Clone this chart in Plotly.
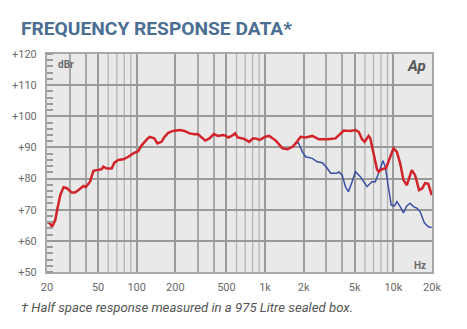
import plotly.graph_objects as go

# ---- data (frequency in Hz, level in dBr) ----
red_freq = [20, 21.1, 21.9, 23.2, 24.3, 25.4, 26.9, 28.6, 31.2, 33.1, 35.2, 38.5, 40.1, 43.3,
            46.0, 50.3, 53.4, 55.0, 58.4, 63.8, 67.0, 71.9, 78.6, 86.0, 94.0, 102.8, 109, 119,
            126, 137, 145, 156, 165, 176, 192, 216, 236, 258, 282, 300, 318, 342, 369, 399,
            429, 469, 497, 518, 550, 584, 612, 669, 710, 753, 801, 849, 901, 928, 997, 1077,
            1213, 1368, 1495, 1635, 1734, 1896, 2073, 2336, 2628, 3054, 3541, 3873, 4106,
            4628, 5061, 5369, 5702, 5975, 6418, 6616, 7015, 7454, 7670, 8147, 8750, 9449,
            10023, 10652, 11298, 11983, 12733, 13918, 14765, 15860, 16820, 17648, 18722, 19894]
red_db = [66.1, 65.6, 64.5, 66.7, 71.0, 74.7, 77.2, 76.9, 75.5, 75.5, 76.3, 77.6, 77.3, 79.0,
          82.5, 82.7, 83.0, 83.8, 83.2, 83.2, 85.1, 86.0, 86.2, 87.0, 88.1, 88.8, 90.6, 92.4,
          93.4, 92.9, 91.3, 91.8, 93.4, 94.7, 95.3, 95.6, 95.3, 94.5, 94.2, 94.3, 93.4, 92.2,
          92.9, 94.3, 93.7, 94.0, 93.7, 93.2, 93.7, 94.5, 93.2, 92.9, 92.4, 91.8, 92.9, 92.9,
          92.4, 92.6, 93.4, 93.7, 92.2, 89.7, 89.4, 90.2, 91.3, 93.4, 93.2, 93.7, 92.6, 92.6,
          92.9, 94.5, 95.4, 95.3, 95.6, 95.0, 92.6, 91.8, 93.7, 92.9, 88.1, 83.0, 82.2, 83.0,
          83.3, 87.0, 89.7, 88.6, 84.9, 79.5, 77.9, 82.7, 81.1, 76.3, 76.9, 78.5, 78.3, 74.7]

blue_freq = [1734, 1820, 1954, 2073, 2336, 2554, 2793, 3054, 3239, 3650, 3756, 3991, 4233,
             4466, 4771, 5061, 5533, 6235, 6817, 7231, 7670, 8296, 8646, 9170, 9624, 10206,
             10652, 11298, 11983, 12733, 13504, 14326, 15220, 16150, 17432, 18722, 19894]
blue_db = [91.3, 91.5, 88.6, 87.0, 86.5, 85.4, 85.1, 83.3, 81.7, 81.7, 82.2, 81.1, 77.4,
           75.8, 79.0, 82.2, 80.6, 77.4, 79.0, 79.0, 81.7, 85.7, 83.8, 77.4, 71.5, 71.2,
           72.6, 71.0, 69.0, 71.2, 72.1, 71.0, 70.5, 69.4, 65.8, 64.5, 64.3]

x_tick_vals = [20, 50, 100, 200, 500, 1000, 2000, 5000, 10000, 20000]
x_tick_text = ["20", "50", "100", "200", "500", "1k", "2k", "5k", "10k", "20k"]
x_mid_grid = [30, 40, 300, 400, 3000, 4000]
x_light_grid = [60, 70, 80, 90, 600, 700, 800, 900, 6000, 7000, 8000, 9000]
y_tick_vals = [50, 60, 70, 80, 90, 100, 110, 120]
y_tick_text = ["+50", "+60", "+70", "+80", "+90", "+100", "+110", "+120"]

title_text = "FREQUENCY RESPONSE DATA*"
foot_text = "† Half space response measured in a 975 Litre sealed box."

fig = go.Figure()
fig.add_trace(go.Scatter(x=blue_freq, y=blue_db, mode="lines",
                         line=dict(color="#3a4fa3", width=1.5), hoverinfo="skip"))
fig.add_trace(go.Scatter(x=red_freq, y=red_db, mode="lines",
                         line=dict(color="#d2232a", width=2.5), hoverinfo="skip"))

for f in x_light_grid:
    fig.add_shape(type="line", xref="x", yref="paper", x0=f, x1=f, y0=0, y1=1,
                  line=dict(color="#b4b4b4", width=1.3), layer="below")

fig.update_layout(
    width=467, height=329,
    margin=dict(l=45, r=35, t=54, b=57),
    paper_bgcolor="white", plot_bgcolor="#e9e9e9",
    showlegend=False,
    font=dict(family="Roboto, Arial, sans-serif", color="#666666", size=11),
    xaxis=dict(type="log", range=[1.30103, 4.30103],
               tickvals=x_tick_vals, ticktext=x_tick_text,
               showgrid=True, gridcolor="#9a9a9a", gridwidth=2,
               showline=True, linecolor="#a8a8a8", linewidth=2, mirror=True,
               ticks="", ticklabelstandoff=4, zeroline=False,
               tickfont=dict(size=11, color="#6a6a6a"),
               minor=dict(tickvals=x_mid_grid, showgrid=True,
                          gridcolor="#a8a8a8", gridwidth=1.6, ticks="")),
    yaxis=dict(range=[50, 120], tickvals=y_tick_vals, ticktext=y_tick_text,
               showgrid=True, gridcolor="#9a9a9a", gridwidth=2,
               showline=True, linecolor="#a8a8a8", linewidth=2, mirror=True,
               ticks="", ticklabelstandoff=6, zeroline=False,
               tickfont=dict(size=11, color="#6a6a6a"),
               minor=dict(dtick=2, ticks="inside", ticklen=6, tickwidth=1.5,
                          tickcolor="#9a9a9a", showgrid=False)),
)

fig.add_annotation(text="<b>" + title_text + "</b>", xref="paper", yref="paper",
                   x=-0.0724, y=1.119, xanchor="left", yanchor="middle", showarrow=False,
                   font=dict(family="Roboto, sans-serif", size=19.2, color="#4b6e93"))
fig.add_annotation(text="<i>" + foot_text + "</i>", xref="paper", yref="paper",
                   x=-0.0724, y=-0.165, xanchor="left", yanchor="middle", showarrow=False,
                   font=dict(family="Roboto, sans-serif", size=13.2, color="#555555"))
fig.add_annotation(text="<b>dBr</b>", xref="paper", yref="paper", x=0.023, y=0.954,
                   xanchor="left", yanchor="middle", showarrow=False,
                   font=dict(size=10, color="#6a6a6a"))
fig.add_annotation(text="<b>Hz</b>", xref="paper", yref="paper", x=0.99, y=0.032,
                   xanchor="right", yanchor="middle", showarrow=False,
                   font=dict(size=10, color="#6a6a6a"))
fig.add_annotation(text="<b><i>Ap</i></b>", xref="paper", yref="paper", x=0.99, y=0.945,
                   xanchor="right", yanchor="middle", showarrow=False,
                   font=dict(size=15, color="#555555"))

fig.write_html("out.html")
